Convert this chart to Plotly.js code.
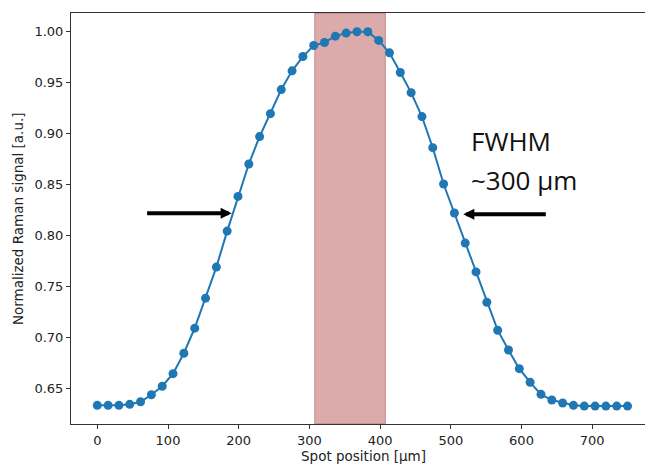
<!DOCTYPE html>
<html>
<head>
<meta charset="utf-8">
<script src="https://cdn.plot.ly/plotly-3.0.1.min.js"></script>
<style>html,body{margin:0;padding:0;background:#fff;}#chart{width:645px;height:464px;}</style>
</head>
<body>
<div id="chart"></div>
<script>
// Spot positions [µm]
const spotPosition = [
  0, 15.3, 30.6, 45.9, 61.2, 76.5, 91.8, 107.1, 122.4, 137.8,
  153.1, 168.4, 183.7, 199.0, 214.3, 229.6, 244.9, 260.2, 275.5, 290.8,
  306.1, 321.4, 336.7, 352.0, 367.3, 382.7, 398.0, 413.3, 428.6, 443.9,
  459.2, 474.5, 489.8, 505.1, 520.4, 535.7, 551.0, 566.3, 581.6, 596.9,
  612.2, 627.6, 642.9, 658.2, 673.5, 688.8, 704.1, 719.4, 734.7, 750.0
];
// Normalized Raman signal [a.u.]
const ramanSignal = [
  0.6333, 0.6333, 0.6333, 0.6343, 0.6368, 0.6437, 0.6520, 0.6644, 0.6844, 0.7090,
  0.7384, 0.7689, 0.8042, 0.8382, 0.8700, 0.8969, 0.9194, 0.9430, 0.9614, 0.9754,
  0.9862, 0.9892, 0.9954, 0.9984, 0.9997, 0.9997, 0.9912, 0.9790, 0.9597, 0.9400,
  0.9165, 0.8860, 0.8504, 0.8219, 0.7924, 0.7642, 0.7344, 0.7070, 0.6876, 0.6693,
  0.6559, 0.6441, 0.6385, 0.6356, 0.6333, 0.6326, 0.6326, 0.6326, 0.6326, 0.6326
];
// Shaded region [µm]
const shadeStart = 307.5;
const shadeEnd = 407.5;
// FWHM arrow tips (x [µm], y)
const leftArrowTip = [190, 0.8217];
const rightArrowTip = [517.7, 0.8207];
const xTicks = [0, 100, 200, 300, 400, 500, 600, 700];
const yTicks = [0.65, 0.70, 0.75, 0.80, 0.85, 0.90, 0.95, 1.00];
const annotationLines = ["FWHM", "~300 µm"];

const trace = {
  x: spotPosition,
  y: ramanSignal,
  type: 'scatter',
  mode: 'lines+markers',
  line: {color: '#1f77b4', width: 2},
  marker: {color: '#1f77b4', size: 9},
  hoverinfo: 'skip'
};

const tickFont = {family: 'DejaVu Sans', size: 13, color: '#222'};

const layout = {
  width: 645,
  height: 464,
  margin: {l: 71, r: 0, t: 13, b: 40, pad: 0},
  paper_bgcolor: '#fff',
  plot_bgcolor: '#fff',
  showlegend: false,
  font: {family: 'DejaVu Sans', color: '#222'},
  xaxis: {
    range: [-37.2, 774.7],
    tickvals: xTicks,
    ticktext: xTicks.map(String),
    showgrid: false, zeroline: false,
    showline: true, linecolor: '#333', linewidth: 1, mirror: true,
    ticks: 'outside', ticklen: 4, tickwidth: 1, tickcolor: '#333',
    tickfont: tickFont
  },
  yaxis: {
    range: [0.615, 1.0181],
    tickvals: yTicks,
    ticktext: yTicks.map(v => v.toFixed(2)),
    showgrid: false, zeroline: false,
    showline: true, linecolor: '#333', linewidth: 1, mirror: false,
    ticks: 'outside', ticklen: 4, tickwidth: 1, tickcolor: '#333',
    tickfont: tickFont
  },
  shapes: [{
    type: 'rect', layer: 'below',
    xref: 'x', yref: 'paper',
    x0: shadeStart, x1: shadeEnd, y0: 0, y1: 1,
    fillcolor: 'rgba(165,42,42,0.4)',
    line: {color: 'rgba(165,42,42,0.4)', width: 1}
  }],
  annotations: [
    {
      xref: 'paper', yref: 'paper', x: 0.509, y: -0.079,
      xanchor: 'center', yanchor: 'middle', showarrow: false,
      text: 'Spot position [µm]', font: {family: 'DejaVu Sans', size: 13.5, color: '#222'}
    },
    {
      xref: 'paper', yref: 'paper', x: -0.093, y: 0.5,
      xanchor: 'center', yanchor: 'middle', showarrow: false, textangle: -90,
      text: 'Normalized Raman signal [a.u.]', font: {family: 'DejaVu Sans', size: 13.5, color: '#222'}
    },
    {
      xref: 'paper', yref: 'paper', x: 0.694, y: 0.688,
      xanchor: 'left', yanchor: 'middle', showarrow: false,
      text: annotationLines[0], font: {family: 'Open Sans', size: 26, color: '#111'}
    },
    {
      xref: 'paper', yref: 'paper', x: 0.694, y: 0.5937,
      xanchor: 'left', yanchor: 'middle', showarrow: false,
      text: annotationLines[1], font: {family: 'Open Sans', size: 26, color: '#111'}
    },
    {
      xref: 'x', yref: 'y', x: leftArrowTip[0], y: leftArrowTip[1],
      ax: -86, ay: 0, text: '', showarrow: true,
      arrowhead: 2, arrowsize: 0.55, arrowwidth: 4, arrowcolor: '#000', standoff: 0
    },
    {
      xref: 'x', yref: 'y', x: rightArrowTip[0], y: rightArrowTip[1],
      ax: 84, ay: 0, text: '', showarrow: true,
      arrowhead: 2, arrowsize: 0.55, arrowwidth: 4, arrowcolor: '#000', standoff: 0
    }
  ]
};

Plotly.newPlot('chart', [trace], layout, {staticPlot: true, displayModeBar: false});
</script>
</body>
</html>
